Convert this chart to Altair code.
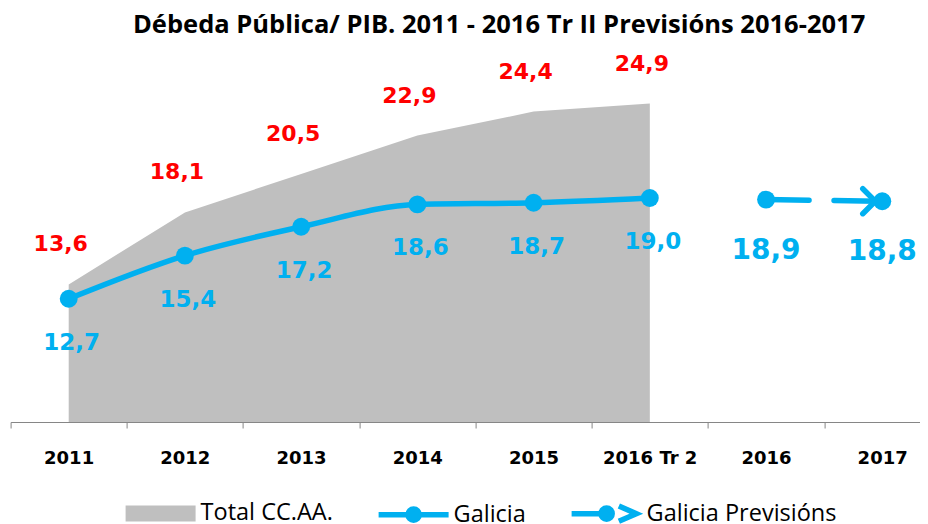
import json
import altair as alt
import pandas as pd

categories = ["2011", "2012", "2013", "2014", "2015", "2016 Tr 2", "2016", "2017"]
hist_cats = ["2011", "2012", "2013", "2014", "2015", "2016 Tr 2"]
total_ccaa = [13.6, 18.1, 20.5, 22.9, 24.4, 24.9]
galicia = [12.7, 15.4, 17.2, 18.6, 18.7, 19.0]
prev_cats = ["2016", "2017"]
galicia_prev = [18.9, 18.8]
legend_names = ["Total CC.AA.", "Galicia", "Galicia Previsións"]
title_text = "Débeda Pública/ PIB. 2011  - 2016 Tr II Previsións 2016-2017"

BLUE = "#00B0F0"
RED = "#FF0000"
GRAY = "#BFBFBF"

hist = pd.DataFrame({"cat": hist_cats, "total": total_ccaa, "gal": galicia})
hist["i"] = [categories.index(c) for c in hist_cats]
prev = pd.DataFrame({"cat": prev_cats, "val": galicia_prev})
prev["i"] = [categories.index(c) for c in prev_cats]
leg = pd.DataFrame({"name": legend_names})

lbl = "replace(format(datum.v, '.1f'), '.', ',')"

band_edges = [k - 0.5 for k in range(len(categories))]
x = alt.X(
    "i:Q",
    scale=alt.Scale(domain=[-0.5, 7.39], nice=False, zero=False),
    axis=alt.Axis(
        title=None, values=band_edges, labelAngle=0,
        labelExpr=json.dumps(categories) + "[round(datum.value + 0.5)]",
        labelOffset=58, domainColor="#868686", tickColor="#868686",
        tickSize=6, labelFont="DejaVu Sans", labelFontWeight="bold",
        labelFontSize=18, labelColor="#000000", labelPadding=30, labelBaseline="middle",
        labelAlign="center", grid=False, labelOverlap=False, labelFlush=False, labelBound=False,
    ),
)
ys = alt.Scale(domain=[5, 28], zero=False, nice=False)

base = alt.Chart(hist)

area = base.mark_area(color=GRAY).encode(
    x=x, y=alt.Y("total:Q", scale=ys, axis=None), y2=alt.datum(5)
)
gal_line = base.mark_line(color=BLUE, strokeWidth=5.5, interpolate="monotone").encode(
    x=x, y=alt.Y("gal:Q", scale=ys, axis=None)
)
gal_pts = base.mark_circle(color=BLUE, size=320, opacity=1).encode(
    x=x, y=alt.Y("gal:Q", scale=ys, axis=None)
)
red_lbl = base.transform_calculate(v="datum.total").transform_calculate(t=lbl).mark_text(
    color=RED, font="DejaVu Sans", fontWeight="bold", fontSize=22, dy=-40, dx=-8
).encode(x=x, y=alt.Y("total:Q", scale=ys, axis=None), text="t:N")
blue_lbl = base.transform_calculate(v="datum.gal").transform_calculate(t=lbl).mark_text(
    color=BLUE, font="DejaVu Sans", fontWeight="bold", fontSize=23, dy=44, dx=3
).encode(x=x, y=alt.Y("gal:Q", scale=ys, axis=None), text="t:N")

pbase = alt.Chart(prev)
prev_line = pbase.mark_line(color=BLUE, strokeWidth=5.5, strokeDash=[43, 25], strokeCap="round").encode(
    x=x, y=alt.Y("val:Q", scale=ys, axis=None)
)
chevron = pbase.transform_filter("datum.cat == '2017'").mark_point(
    shape="M-1,-1L0,0L-1,1", size=625, filled=False, color=BLUE, strokeWidth=5.5,
    strokeCap="round", strokeJoin="round", xOffset=-7, opacity=1
).encode(x=x, y=alt.Y("val:Q", scale=ys, axis=None))
prev_pts = pbase.mark_circle(color=BLUE, size=320, opacity=1).encode(
    x=x, y=alt.Y("val:Q", scale=ys, axis=None)
)
prev_lbl = pbase.transform_calculate(v="datum.val").transform_calculate(t=lbl).mark_text(
    color=BLUE, font="DejaVu Sans", fontWeight="bold", fontSize=28, dy=51
).encode(x=x, y=alt.Y("val:Q", scale=ys, axis=None), text="t:N")

shapes = [
    "M-1,-0.23H1V0.23H-1Z",
    "M-1,0H1M0.16,0A0.16,0.16 0 1 1 -0.16,0A0.16,0.16 0 1 1 0.16,0Z",
    "M-1,0H0M0.16,0A0.16,0.16 0 1 1 -0.16,0A0.16,0.16 0 1 1 0.16,0ZM0.35,-0.22L0.85,0L0.35,0.22L0.85,0Z",
]
lg = alt.Legend(
    title=None, orient="none", legendX=112, legendY=421, direction="horizontal", columns=3,
    labelFont="Open Sans", labelFontSize=23.5, labelColor="#000000", labelOffset=2,
    labelLimit=400, columnPadding=34, symbolSize=4900, symbolStrokeWidth=5.5,
    symbolOpacity=1, padding=0,
)
legend_layer = alt.Chart(leg).mark_point(opacity=0, size=4900, strokeWidth=5.5).encode(
    fill=alt.Fill("name:N", scale=alt.Scale(domain=legend_names, range=[GRAY, BLUE, BLUE]), legend=lg),
    stroke=alt.Stroke("name:N", scale=alt.Scale(domain=legend_names, range=["transparent", BLUE, BLUE]), legend=lg),
    shape=alt.Shape("name:N", scale=alt.Scale(domain=legend_names, range=shapes), legend=lg),
)

chart = alt.layer(
    area, gal_line, gal_pts, prev_line, chevron, prev_pts, red_lbl, blue_lbl, prev_lbl, legend_layer
).properties(
    width=917, height=368, autosize="none",
    padding={"left": 2.6, "top": 46, "right": -7.6, "bottom": 102},
    title=alt.TitleParams(
        text=title_text, font="Open Sans", fontWeight="bold", fontSize=25.5, color="#000000",
        anchor="middle", dx=30, dy=24, offset=18, baseline="alphabetic",
    ),
).configure_view(stroke=None)

chart.save("out.html", embed_options={"renderer": "svg", "actions": False})
